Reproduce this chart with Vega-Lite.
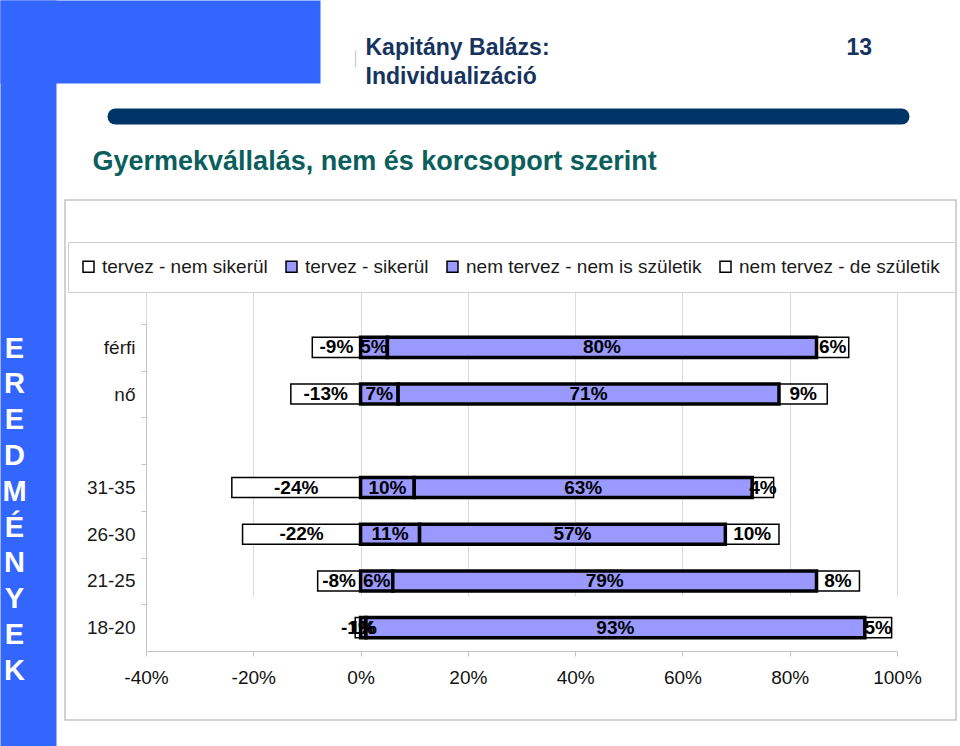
{
  "$schema": "https://vega.github.io/schema/vega-lite/v6.json",
  "width": 891,
  "height": 520,
  "autosize": {"type": "none"},
  "padding": {"left": 65, "top": 200, "right": 4, "bottom": 26},
  "background": "white",
  "data": {
    "values": [
      {"grp": "férfi", "cat": "tervez - nem sikerül", "v": -9},
      {"grp": "férfi", "cat": "nem tervez - de születik", "v": 6},
      {"grp": "férfi", "cat": "tervez - sikerül", "v": 5},
      {"grp": "férfi", "cat": "nem tervez - nem is születik", "v": 80},
      {"grp": "nő", "cat": "tervez - nem sikerül", "v": -13},
      {"grp": "nő", "cat": "nem tervez - de születik", "v": 9},
      {"grp": "nő", "cat": "tervez - sikerül", "v": 7},
      {"grp": "nő", "cat": "nem tervez - nem is születik", "v": 71},
      {"grp": "31-35", "cat": "tervez - nem sikerül", "v": -24},
      {"grp": "31-35", "cat": "nem tervez - de születik", "v": 4},
      {"grp": "31-35", "cat": "tervez - sikerül", "v": 10},
      {"grp": "31-35", "cat": "nem tervez - nem is születik", "v": 63},
      {"grp": "26-30", "cat": "tervez - nem sikerül", "v": -22},
      {"grp": "26-30", "cat": "nem tervez - de születik", "v": 10},
      {"grp": "26-30", "cat": "tervez - sikerül", "v": 11},
      {"grp": "26-30", "cat": "nem tervez - nem is születik", "v": 57},
      {"grp": "21-25", "cat": "tervez - nem sikerül", "v": -8},
      {"grp": "21-25", "cat": "nem tervez - de születik", "v": 8},
      {"grp": "21-25", "cat": "tervez - sikerül", "v": 6},
      {"grp": "21-25", "cat": "nem tervez - nem is születik", "v": 79},
      {"grp": "18-20", "cat": "tervez - nem sikerül", "v": -1},
      {"grp": "18-20", "cat": "nem tervez - de születik", "v": 5},
      {"grp": "18-20", "cat": "tervez - sikerül", "v": 1},
      {"grp": "18-20", "cat": "nem tervez - nem is születik", "v": 93}
    ]
  },
  "layer": [
    {
      "transform": [
        {"stack": "v", "groupby": ["grp"], "sort": [{"field": "cat", "order": "descending"}], "as": ["v0", "v1"], "offset": "zero"},
        {"calculate": "(datum.v0 + datum.v1) / 2", "as": "mid"},
        {"calculate": "datum.v + '%'", "as": "lbl"}
      ],
      "encoding": {
        "y": {
          "field": "grp",
          "type": "nominal",
          "scale": {
            "domain": ["férfi", "nő", " ", "31-35", "26-30", "21-25", "18-20"],
            "range": [124, 451],
            "paddingInner": 0.57,
            "paddingOuter": 0.285
          },
          "axis": {
            "orient": "left",
            "offset": -81,
            "bandPosition": 0,
            "tickOffset": -13.3,
            "labelOffset": 13.3,
            "tickSize": 5,
            "tickColor": "#C4C4C4",
            "domainColor": "#C4C4C4",
            "labelPadding": 6,
            "labelFontSize": 19,
            "labelColor": "#1a1a1a",
            "labelFont": "Liberation Sans",
            "grid": false,
            "title": "Gyermekvállalás, nem és korcsoport szerint",
            "titleAngle": 0,
            "titleX": -54,
            "titleY": -31,
            "titleAlign": "left",
            "titleBaseline": "alphabetic",
            "titleFont": "Liberation Sans",
            "titleFontSize": 27,
            "titleFontWeight": "bold",
            "titleColor": "#0A5F5C",
            "titleLimit": 2000
          }
        }
      },
      "layer": [
        {
          "mark": {"type": "bar", "stroke": "black", "cornerRadius": 0},
          "encoding": {
            "x": {
              "field": "v0",
              "type": "quantitative",
              "scale": {"domain": [-40, 100], "range": [81, 832], "nice": false, "zero": false},
              "axis": {
                "orient": "bottom",
                "offset": -69,
                "values": [-40, -20, 0, 20, 40, 60, 80, 100],
                "labelExpr": "datum.value + '%'",
                "labelFontSize": 19,
                "labelFont": "Liberation Sans",
                "labelColor": "#111",
                "labelPadding": 12,
                "labelFlush": false,
                "tickSize": 5,
                "tickColor": "#C4C4C4",
                "domainColor": "#C4C4C4",
                "grid": true,
                "gridColor": "#DADADA",
                "title": null
              }
            },
            "x2": {"field": "v1"},
            "fill": {
              "field": "cat",
              "type": "nominal",
              "scale": {
                "domain": ["tervez - nem sikerül", "tervez - sikerül", "nem tervez - nem is születik", "nem tervez - de születik"],
                "range": ["#FFFFFF", "#9999FF", "#9999FF", "#FFFFFF"]
              },
              "legend": {
                "title": null,
                "orient": "none",
                "legendX": 3,
                "legendY": 42,
                "direction": "horizontal",
                "columns": 4,
                "columnPadding": 15,
                "labelOffset": 4,
                "symbolOffset": -4,
                "labelFontSize": 19,
                "labelFont": "Liberation Sans",
                "labelColor": "#1a1a1a",
                "labelLimit": 400,
                "symbolType": "square",
                "symbolSize": 121,
                "padding": 15,
                "strokeColor": "#CFCFCF",
                "fillColor": "white",
                "encode": {
                  "symbols": {
                    "stroke": {"value": "black"},
                    "strokeWidth": {
                      "condition": {"test": "datum.value === 'tervez - sikerül' || datum.value === 'nem tervez - nem is születik'", "value": 2.5},
                      "value": 1.2
                    }
                  }
                }
              }
            },
            "strokeWidth": {
              "condition": {"test": "datum.cat === 'tervez - sikerül' || datum.cat === 'nem tervez - nem is születik'", "value": 3.5},
              "value": 1.5
            }
          }
        },
        {
          "mark": {"type": "text", "font": "Liberation Sans", "fontSize": 19, "fontWeight": "bold", "color": "black", "baseline": "middle", "align": "center"},
          "encoding": {
            "x": {
              "field": "mid",
              "type": "quantitative",
              "scale": {"domain": [-40, 100], "range": [81, 832], "nice": false, "zero": false}
            },
            "text": {"field": "lbl"}
          }
        }
      ]
    },
    {
      "transform": [{"filter": "false"}],
      "mark": {"type": "point"},
      "encoding": {
        "x": {
          "field": "v",
          "type": "quantitative",
          "scale": {"domain": [0, 1], "range": [-65, 255], "nice": false, "zero": false},
          "axis": {
            "orient": "top",
            "offset": 158.5,
            "labels": false,
            "ticks": false,
            "grid": false,
            "domainColor": "#3366FF",
            "domainWidth": 83,
            "domainCap": "butt",
            "title": ["Kapitány Balázs:", "Individualizáció"],
            "titleAngle": 0,
            "titleX": 300,
            "titleY": 12.5,
            "titleAlign": "left",
            "titleBaseline": "alphabetic",
            "titleFont": "Liberation Sans",
            "titleFontSize": 23,
            "titleFontWeight": "bold",
            "titleColor": "#17345F",
            "titleLineHeight": 29,
            "titleLimit": 2000
          }
        },
        "y": {
          "field": "v",
          "type": "quantitative",
          "scale": {"domain": [0, 1], "range": [546, -200], "nice": false, "zero": false},
          "axis": {
            "orient": "left",
            "offset": 37,
            "labels": false,
            "ticks": false,
            "grid": false,
            "domainColor": "#3366FF",
            "domainWidth": 56,
            "domainCap": "butt",
            "title": ["E", "R", "E", "D", "M", "É", "N", "Y", "E", "K"],
            "titleAngle": 0,
            "titleX": -14,
            "titleY": 157,
            "titleAlign": "center",
            "titleBaseline": "alphabetic",
            "titleFont": "Liberation Sans",
            "titleFontSize": 29,
            "titleFontWeight": "bold",
            "titleColor": "white",
            "titleLineHeight": 35.8,
            "titleLimit": 2000
          }
        }
      }
    },
    {
      "transform": [{"filter": "false"}],
      "mark": {"type": "point"},
      "encoding": {
        "x": {
          "field": "v",
          "type": "quantitative",
          "scale": {"domain": [0, 1], "range": [50, 836], "nice": false, "zero": false},
          "axis": {
            "orient": "top",
            "offset": 84,
            "labels": false,
            "ticks": false,
            "grid": false,
            "domainColor": "#003366",
            "domainWidth": 16,
            "domainCap": "round",
            "title": "13",
            "titleAngle": 0,
            "titleX": 781,
            "titleY": -62,
            "titleAlign": "left",
            "titleBaseline": "alphabetic",
            "titleFont": "Liberation Sans",
            "titleFontSize": 23,
            "titleFontWeight": "bold",
            "titleColor": "#17345F",
            "titleLimit": 2000
          }
        },
        "y": {
          "field": "v",
          "type": "quantitative",
          "scale": {"domain": [0, 1], "range": [-133, -150], "nice": false, "zero": false},
          "axis": {
            "orient": "left",
            "offset": -290,
            "labels": false,
            "ticks": false,
            "grid": false,
            "domainColor": "#D0D0D0",
            "domainWidth": 1.5,
            "title": null
          }
        }
      }
    }
  ],
  "resolve": {"scale": {"x": "independent", "y": "independent"}},
  "config": {
    "font": "Liberation Sans",
    "view": {"fill": "white", "stroke": "#C4C4C4", "strokeWidth": 1.5}
  }
}
